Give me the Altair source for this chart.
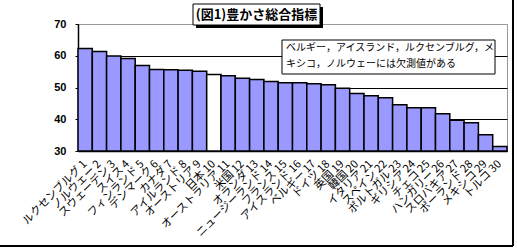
import altair as alt
import pandas as pd

countries = ["ルクセンブルグ", "ノルウェー", "スウェーデン", "スイス", "フィンランド",
             "デンマーク", "カナダ", "アイルランド", "オーストリア", "日本",
             "オーストラリア", "米国", "オランダ", "ニュージーランド", "フランス",
             "アイスランド", "ベルギー", "ドイツ", "英国", "韓国",
             "イタリア", "スペイン", "ポルトガル", "ギリシア", "チェコ",
             "ハンガリー", "スロバキア", "ポーランド", "メキシコ", "トルコ"]
ranks = list(range(1, 31))
values = [62.3, 61.3, 59.9, 59.1, 56.9, 55.7, 55.6, 55.4, 55.1, 54.1,
          53.7, 52.9, 52.5, 51.9, 51.5, 51.5, 51.2, 50.9, 49.8, 48.1,
          47.4, 46.8, 44.6, 43.6, 43.6, 41.7, 39.7, 38.9, 35.1, 31.4]
highlight = ["日本"]
y_ticks = [30, 40, 50, 60, 70]

title_text = "(図1)豊かさ総合指標"
note_lines = ["ベルギー，アイスランド，ルクセンブルグ，メ", "キシコ，ノルウェーには欠測値がある"]

df = pd.DataFrame({
    "label": [f"{c}  {r}" for c, r in zip(countries, ranks)],
    "value": values,
    "hl": [c in highlight for c in countries],
})

JP = "Noto Sans CJK JP"

bars = alt.Chart(df).mark_bar(stroke="black", strokeWidth=1.5).encode(
    x=alt.X("label:N", sort=None,
            scale=alt.Scale(paddingInner=0, paddingOuter=0),
            axis=alt.Axis(title=None, labelAngle=-45, labelAlign="right",
                          labelBaseline="middle", labelPadding=11,
                          labelFont=JP, labelFontSize=11, labelColor="black",
                          labelOverlap=False, ticks=False,
                          domainColor="black", domainWidth=1.5)),
    y=alt.Y("value:Q",
            scale=alt.Scale(domain=[30, 70], zero=False, nice=False),
            axis=alt.Axis(title=None, values=y_ticks, labelFont="Liberation Sans",
                          labelFontWeight="bold", labelFontSize=11, labelColor="black",
                          labelPadding=9, tickSize=3, tickColor="black",
                          domainColor="black", domainWidth=1.5,
                          grid=True,
                          gridColor={"condition": {"test": "datum.value === 70", "value": "#999999"},
                                     "value": "black"},
                          gridWidth=1)),
    y2=alt.datum(30),
    fill=alt.condition(alt.datum.hl, alt.value("white"), alt.value("#9999FF")),
)

# title box with shadow
title_shadow = alt.Chart().mark_rect(fill="black").encode(
    x=alt.value(118), x2=alt.value(245), y=alt.value(-17), y2=alt.value(4))
title_box = alt.Chart().mark_rect(fill="white", stroke="black", strokeWidth=1).encode(
    x=alt.value(115), x2=alt.value(242), y=alt.value(-20), y2=alt.value(1))
title_mark = alt.Chart().mark_text(text=title_text, font=JP, fontSize=13,
                                   fontWeight="bold", color="black",
                                   align="center", baseline="middle").encode(
    x=alt.value(178.5), y=alt.value(-9.5))

note_box = alt.Chart().mark_rect(fill="white", stroke="black", strokeWidth=1).encode(
    x=alt.value(204), x2=alt.value(417), y=alt.value(16), y2=alt.value(50))
note1 = alt.Chart().mark_text(text=note_lines[0], font=JP, fontSize=10, color="black",
                              align="left", baseline="middle").encode(
    x=alt.value(208), y=alt.value(24))
note2 = alt.Chart().mark_text(text=note_lines[1], font=JP, fontSize=10, color="black",
                              align="left", baseline="middle").encode(
    x=alt.value(208), y=alt.value(40))

border_r = alt.Chart().mark_rule(color="black", strokeWidth=2).encode(
    x=alt.value(435), y=alt.value(-24), y2=alt.value(222))
border_b = alt.Chart().mark_rule(color="black", strokeWidth=2).encode(
    x=alt.value(-78), x2=alt.value(435), y=alt.value(222))

chart = alt.layer(bars, title_shadow, title_box, title_mark, note_box, note1, note2,
                  border_r, border_b).properties(
    width=429, height=127,
    autosize=alt.AutoSizeParams(type="none"),
    padding={"left": 78, "top": 24, "right": 10, "bottom": 98},
    background="white",
).configure_view(stroke="#999999", strokeWidth=1)

chart.save("out.html", embed_options={"renderer": "svg", "actions": False})
